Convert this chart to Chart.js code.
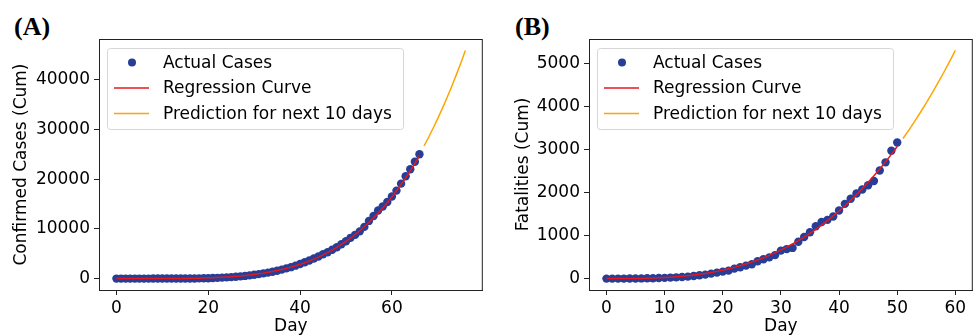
<!DOCTYPE html>
<html>
<head>
<meta charset="utf-8">
<script src="https://cdn.jsdelivr.net/npm/chart.js@4"></script>
<style>
  body { margin: 0; background: #fff; width: 974px; height: 335px; overflow: hidden; position: relative; }
  .painel { position: absolute; top: 0; height: 335px; }
  .rotulo { position: absolute; top: 12px; font: bold 26px "Liberation Serif", "Times New Roman", serif; color: #000; }
</style>
</head>
<body>
<div class="rotulo" style="left:14px">(A)</div>
<div class="rotulo" style="left:515px">(B)</div>
<div class="painel" style="left:0; width:487px"><canvas id="graficoCasos"></canvas></div>
<div class="painel" style="left:490px; width:487px"><canvas id="graficoMortes"></canvas></div>
<script>
// (A) casos confirmados - dias 0..66
var diasCasos = [0,1,2,3,4,5,6,7,8,9,10,11,12,13,14,15,16,17,18,19,20,21,22,23,24,25,26,27,28,29,30,31,32,33,34,35,36,37,38,39,40,41,42,43,44,45,46,47,48,49,50,51,52,53,54,55,56,57,58,59,60,61,62,63,64,65,66];
var casosReais = [2,2,2,2,2,3,3,3,5,8,9,12,14,16,16,17,20,30,40,60,80,110,150,200,250,300,370,450,540,650,780,900,1050,1200,1380,1570,1800,2050,2300,2600,2950,3300,3650,4050,4450,4900,5300,5800,6300,6900,7500,8200,8800,9500,10400,11600,12600,13700,14500,15400,16500,17700,19100,20600,22000,23500,25000];
var casosRegressao = [0,0,0,0,0,0,1,2,3,5,7,11,16,23,31,42,56,72,93,117,146,180,219,266,319,380,450,529,618,719,832,958,1099,1254,1427,1615,1823,2052,2302,2572,2868,3190,3539,3915,4322,4764,5236,5741,6288,6874,7500,8165,8873,9630,10440,11290,12200,13170,14190,15270,16430,17640,18920,20250,21670,23150,24700];
var diasPrevCasos = [67,68,69,70,71,72,73,74,75,76];
var casosPrevisao = [26670,28430,30290,32220,34250,36370,38590,40930,43330,45870];

// (B) fatalidades - dias 0..50
var diasMortes = [0,1,2,3,4,5,6,7,8,9,10,11,12,13,14,15,16,17,18,19,20,21,22,23,24,25,26,27,28,29,30,31,32,33,34,35,36,37,38,39,40,41,42,43,44,45,46,47,48,49,50];
var mortesReais = [0,0,1,1,2,3,5,7,10,14,18,24,30,38,47,62,78,93,116,140,163,186,233,264,303,334,404,450,495,548,652,688,715,858,970,1080,1220,1317,1368,1445,1585,1740,1860,1982,2075,2176,2273,2518,2708,2976,3170];
var mortesRegressao = [0,0,0,1,2,3,5,8,13,18,25,33,43,54,68,83,101,121,143,169,197,228,262,299,340,384,432,484,540,600,664,733,806,884,967,1055,1148,1246,1350,1459,1574,1695,1823,1956,2096,2242,2394,2554,2720,2894,3075];
var diasPrevMortes = [51,52,53,54,55,56,57,58,59,60];
var mortesPrevisao = [3263,3459,3663,3874,4093,4320,4556,4800,5052,5314];

var rotulosLegenda = ['Actual Cases', 'Regression Curve', 'Prediction for next 10 days'];

var fonte = '"DejaVu Sans", sans-serif';
Chart.defaults.font.family = fonte;
Chart.defaults.font.size = 17;
Chart.defaults.color = '#000';

function pares(xs, ys){
    return xs.map(function(x, i){ return {x: x, y: ys[i]}; });
}

// moldura e legenda no estilo matplotlib
var molduraLegenda = {
    id: 'molduraLegenda',
    afterDraw: function(chart){
        var ctx = chart.ctx, a = chart.chartArea;
        ctx.save();
        ctx.strokeStyle = '#222';
        ctx.lineWidth = 1;
        ctx.strokeRect(a.left + 0.5, a.top + 0.5, a.right - a.left - 1, a.bottom - a.top);

        var bx = a.left + 8.5, by = a.top + 9.5, bw = 296, bh = 81;
        ctx.fillStyle = 'rgba(255,255,255,0.8)';
        ctx.strokeStyle = '#d6d6d6';
        ctx.beginPath();
        ctx.roundRect(bx, by, bw, bh, 3);
        ctx.fill();
        ctx.stroke();

        var linhaY = [a.top + 23.5, a.top + 49, a.top + 74.5];
        ctx.fillStyle = 'rgb(40,62,150)';
        ctx.beginPath();
        ctx.arc(a.left + 33, linhaY[0], 4, 0, Math.PI * 2);
        ctx.fill();
        ctx.lineWidth = 1.5;
        ctx.strokeStyle = '#e8171b';
        ctx.beginPath(); ctx.moveTo(a.left + 15, linhaY[1]); ctx.lineTo(a.left + 50, linhaY[1]); ctx.stroke();
        ctx.strokeStyle = '#ffa500';
        ctx.beginPath(); ctx.moveTo(a.left + 15, linhaY[2]); ctx.lineTo(a.left + 50, linhaY[2]); ctx.stroke();

        ctx.fillStyle = '#000';
        ctx.font = '17px ' + fonte;
        ctx.textBaseline = 'middle';
        rotulosLegenda.forEach(function(t, i){ ctx.fillText(t, a.left + 64, linhaY[i] + 1); });
        ctx.restore();
    }
};

function montarGrafico(id, dias, reais, regressao, diasPrev, previsao, eixoY, xMin, xMax, passoX, yMin, yMax, passoY, largEixoY, padTitulo){
    var ctx = document.getElementById(id).getContext('2d');
    return new Chart(ctx, {
        type: 'scatter',
        data: {
            datasets: [{
                label: rotulosLegenda[1],
                data: pares(dias, regressao),
                showLine: true,
                borderColor: '#e8171b',
                borderWidth: 1.5,
                pointRadius: 0,
                order: 0
            }, {
                label: rotulosLegenda[2],
                data: pares(diasPrev, previsao),
                showLine: true,
                borderColor: '#ffa500',
                borderWidth: 1.5,
                pointRadius: 0,
                order: 0
            }, {
                label: rotulosLegenda[0],
                data: pares(dias, reais),
                backgroundColor: 'rgb(40,62,150)',
                borderWidth: 0,
                pointRadius: 4.2,
                order: 1
            }]
        },
        options: {
            responsive: true,
            maintainAspectRatio: false,
            animation: false,
            layout: { padding: { top: 39, right: 3, left: 0, bottom: 0 } },
            plugins: { legend: { display: false }, tooltip: { enabled: false } },
            scales: {
                x: {
                    type: 'linear',
                    min: xMin, max: xMax,
                    afterBuildTicks: function(s){
                        var t = [];
                        for (var v = 0; v <= xMax; v += passoX) t.push({value: v});
                        s.ticks = t;
                    },
                    afterFit: function(s){ s.height = 45; },
                    grid: { drawOnChartArea: false, drawTicks: true, tickLength: 5, color: '#222' },
                    border: { display: true, color: '#222', width: 1 },
                    ticks: { padding: 3, maxRotation: 0, color: '#000', callback: function(v){ return String(v); } },
                    title: { display: true, text: 'Day', padding: { top: 0, bottom: -2 }, color: '#000' }
                },
                y: {
                    min: yMin, max: yMax,
                    afterBuildTicks: function(s){
                        var t = [];
                        for (var v = 0; v <= yMax; v += passoY) t.push({value: v});
                        s.ticks = t;
                    },
                    afterFit: function(s){ s.width = largEixoY; },
                    grid: { drawOnChartArea: false, drawTicks: true, tickLength: 5, color: '#222' },
                    border: { display: true, color: '#222', width: 1 },
                    ticks: { padding: 4, color: '#000', callback: function(v){ return String(v); } },
                    title: { display: true, text: eixoY, padding: { top: padTitulo, bottom: 0 }, color: '#000' }
                }
            }
        },
        plugins: [molduraLegenda]
    });
}

montarGrafico('graficoCasos', diasCasos, casosReais, casosRegressao, diasPrevCasos, casosPrevisao,
    'Confirmed Cases (Cum)', -3.8, 79.8, 20, -2295, 48195, 10000, 99, 11);
montarGrafico('graficoMortes', diasMortes, mortesReais, mortesRegressao, diasPrevMortes, mortesPrevisao,
    'Fatalities (Cum)', -3, 63, 10, -265, 5580, 1000, 99, 23);
</script>
</body>
</html>
